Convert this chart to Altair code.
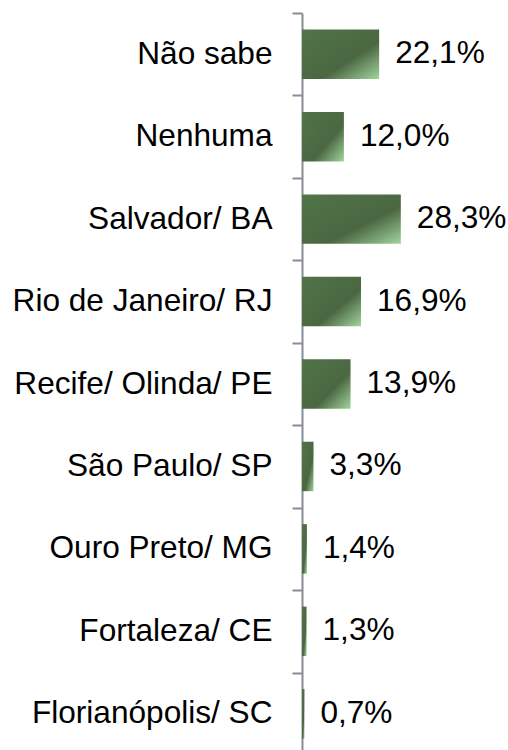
import altair as alt
import pandas as pd

categories = ["Não sabe", "Nenhuma", "Salvador/ BA", "Rio de Janeiro/ RJ",
              "Recife/ Olinda/ PE", "São Paulo/ SP", "Ouro Preto/ MG",
              "Fortaleza/ CE", "Florianópolis/ SC"]
values = [22.1, 12.0, 28.3, 16.9, 13.9, 3.3, 1.4, 1.3, 0.7]
labels = [f"{v:.1f}".replace(".", ",") + "%" for v in values]

df = pd.DataFrame({"cat": categories, "val": values, "label": labels})

grad = alt.LinearGradient(
    gradient="linear", x1=0, y1=0, x2=1, y2=1,
    stops=[alt.GradientStop(color="#517449", offset=0),
           alt.GradientStop(color="#4a6741", offset=0.62),
           alt.GradientStop(color="#a3d49e", offset=1)])

FONT = "Liberation Sans"
AX = "#878c95"
FS = 31.6

y = alt.Y("cat:N", sort=categories, title=None,
          scale=alt.Scale(paddingInner=0, paddingOuter=0, range=[0, 742]),
          axis=alt.Axis(tickBand="extent", tickSize=10, tickWidth=2, tickColor=AX,
                        domainColor=AX, domainWidth=2, labelFont=FONT,
                        labelFontSize=FS, labelColor="#000000", labelPadding=20,
                        labelLimit=0))
x = alt.X("val:Q", axis=None, scale=alt.Scale(domain=[0, 59], nice=False))

bars = alt.Chart(df).mark_bar(color=grad, height={"band": 0.6}).encode(x=x, y=y)
text = alt.Chart(df).mark_text(align="left", baseline="middle", dx=16, font=FONT,
                               fontSize=FS, color="#000000").encode(x=x, y=y, text="label:N")

chart = (bars + text).properties(
    width=206, height=737,
    autosize=alt.AutoSizeParams(type="none"),
    padding={"left": 302, "top": 13, "right": 0, "bottom": 0},
).configure_view(stroke=None)

chart.save("out.html", embed_options={"renderer": "svg", "actions": False})
